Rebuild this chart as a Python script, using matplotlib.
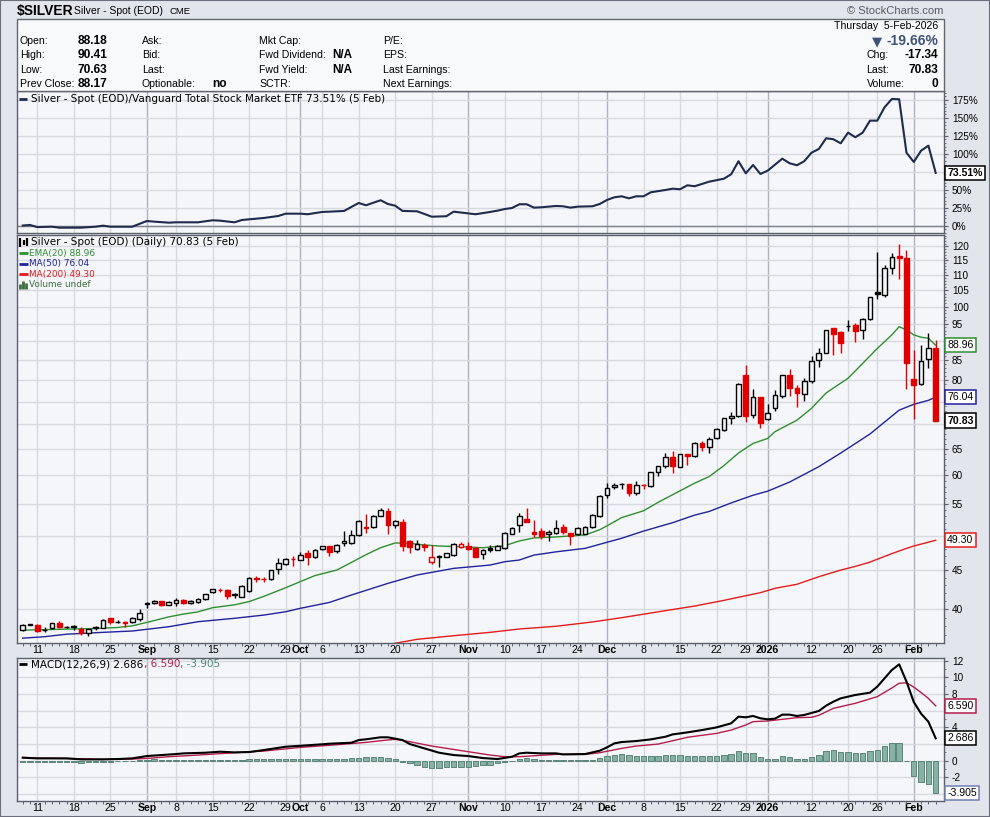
import matplotlib
matplotlib.use("Agg")
import matplotlib.pyplot as plt
import numpy as np
import pandas as pd
from matplotlib.lines import Line2D
from matplotlib.patches import Rectangle
from matplotlib.ticker import FixedLocator, NullFormatter

# ==========================================
# DATA
# ==========================================

FIRST_DAY = "2025-08-07"
LAST_DAY = "2026-02-05"
HOLIDAYS = ["2025-09-01", "2025-11-27", "2025-12-25", "2026-01-01", "2026-01-19"]

opens = [37.56, 38.18, 38.18, 37.58, 37.75, 38.4, 37.92, 37.95, 37.7, 37.25,
         37.75, 37.85, 38.95, 38.5, 38.45, 38.45, 38.9, 40.6, 40.8, 41.0,
         40.55, 40.75, 41.2, 40.8, 40.9, 41.3, 42.2, 42.45, 42.45, 41.8,
         41.56, 42.26, 44.0, 43.88, 43.8, 45.2, 45.9, 46.6, 46.45, 47.4,
         46.8, 47.95, 48.45, 47.7, 48.85, 48.95, 50.15, 51.3, 51.25, 53.05,
         53.85, 51.7, 52.1, 49.2, 47.95, 48.6, 46.1, 46.8, 46.9, 47.15,
         48.25, 48.4, 48.2, 47.25, 48.1, 47.85, 48.1, 50.25, 51.7, 52.6,
         50.6, 50.75, 50.2, 50.35, 51.25, 50.35, 50.25, 50.25, 51.25, 53.05,
         56.55, 58.0, 58.4, 58.45, 56.95, 58.3, 58.1, 60.6, 61.75, 63.45,
         61.6, 64.0, 63.65, 66.1, 65.3, 67.1, 68.8, 71.3, 71.8, 81.3,
         72.0, 76.0, 71.1, 73.5, 76.2, 81.2, 78.1, 76.8, 79.9, 85.0,
         86.9, 93.6, 92.6, 94.3, 94.6, 93.15, 96.2, 104.4, 103.6, 112.3,
         116.5, 115.9, 80.3, 79.0, 85.3, 88.18]
highs = [38.3, 38.3, 38.22, 37.9, 38.4, 38.6, 38.0, 38.2, 37.9, 37.7,
         38.0, 38.8, 39.0, 38.7, 38.6, 39.1, 40.0, 40.9, 41.2, 41.05,
         41.0, 41.35, 41.3, 41.1, 41.4, 41.9, 42.6, 42.65, 42.5, 42.0,
         43.0, 44.05, 44.3, 44.1, 45.1, 46.7, 46.7, 47.0, 47.6, 47.9,
         48.0, 48.5, 48.5, 48.7, 50.75, 50.9, 52.4, 53.4, 53.2, 54.3,
         54.3, 52.4, 52.55, 49.3, 49.3, 48.85, 48.6, 47.2, 47.5, 48.9,
         49.1, 49.0, 48.3, 48.0, 48.6, 48.6, 50.5, 51.3, 53.6, 54.3,
         52.4, 51.1, 50.85, 52.4, 51.75, 50.45, 51.3, 51.4, 53.3, 56.5,
         58.7, 58.7, 58.7, 58.5, 59.0, 58.5, 60.7, 61.8, 64.2, 64.6,
         64.1, 64.1, 66.3, 66.6, 67.3, 69.2, 71.4, 72.6, 79.3, 83.7,
         77.9, 76.1, 74.5, 77.8, 81.3, 82.8, 78.9, 80.5, 86.2, 88.3,
         93.3, 93.8, 93.0, 96.0, 95.3, 96.7, 103.0, 118.1, 113.4, 117.7,
         121.0, 118.7, 87.7, 89.0, 92.2, 90.41]
lows = [37.5, 38.1, 37.4, 37.3, 37.7, 37.75, 37.8, 37.55, 37.05, 36.85,
        37.6, 37.8, 38.3, 38.4, 37.9, 38.4, 38.6, 40.2, 40.6, 40.35,
        40.5, 40.45, 40.7, 40.7, 40.8, 41.2, 42.0, 42.2, 41.3, 41.4,
        41.5, 42.2, 43.5, 43.5, 43.7, 44.5, 45.8, 45.6, 46.4, 45.8,
        46.7, 47.9, 47.05, 47.4, 48.5, 48.7, 50.0, 50.4, 51.1, 53.0,
        50.3, 51.1, 47.7, 47.4, 47.9, 47.7, 45.95, 45.4, 46.8, 47.0,
        48.15, 47.9, 46.8, 46.55, 47.6, 47.8, 48.0, 50.2, 50.6, 52.1,
        49.8, 49.45, 49.2, 50.25, 50.25, 48.6, 50.1, 50.2, 51.1, 52.9,
        56.0, 57.6, 57.5, 56.3, 56.6, 57.5, 58.0, 59.8, 61.3, 60.5,
        61.5, 62.0, 63.5, 64.5, 64.3, 67.0, 68.7, 70.1, 71.7, 70.5,
        71.3, 69.2, 70.9, 72.8, 75.9, 76.2, 73.7, 75.2, 79.4, 83.4,
        86.8, 86.3, 86.9, 92.9, 89.8, 90.7, 96.0, 102.2, 103.0, 110.3,
        108.6, 78.0, 71.1, 78.8, 83.1, 70.63]
closes = [38.14, 38.22, 37.45, 37.62, 38.35, 37.9, 37.95, 37.98, 37.25, 37.65,
          37.9, 38.7, 38.45, 38.55, 38.42, 38.95, 39.6, 40.8, 41.05, 40.5,
          40.95, 41.2, 40.75, 41.0, 41.3, 41.85, 42.5, 42.4, 41.7, 41.85,
          42.92, 43.97, 43.9, 43.82, 45.05, 46.0, 46.6, 46.55, 47.1, 46.8,
          47.9, 48.45, 47.6, 48.65, 49.2, 50.15, 52.25, 51.1, 53.05, 54.0,
          51.7, 52.25, 48.45, 48.35, 48.8, 48.35, 46.8, 47.0, 47.4, 48.8,
          48.7, 47.95, 46.9, 47.85, 47.9, 48.45, 50.35, 51.1, 53.1, 52.15,
          50.2, 49.95, 50.5, 51.2, 50.5, 49.95, 51.1, 51.25, 53.2, 56.35,
          57.8, 58.3, 58.45, 56.95, 58.25, 58.2, 60.55, 61.7, 63.4, 61.75,
          64.0, 63.6, 66.1, 65.3, 66.9, 69.0, 71.3, 71.8, 79.1, 71.9,
          76.0, 70.4, 72.4, 76.5, 81.2, 78.1, 76.9, 79.8, 84.9, 86.9,
          93.1, 92.0, 89.6, 94.4, 92.9, 96.2, 102.8, 103.8, 112.3, 116.3,
          115.7, 84.4, 78.8, 84.9, 88.17, 70.83]

# overlays, sampled by trading-day index
ema20_idx = [0, 5, 10, 13, 15, 17, 20, 22, 24, 26, 29, 31, 33, 36, 38, 40, 43, 45, 47, 49,
             51, 53, 55, 57, 60, 63, 66, 68, 70, 73, 75, 77, 79, 80, 82, 85, 87, 89, 92, 94,
             96, 98, 100, 102, 103, 106, 108, 110, 113, 115, 117, 119, 120, 121, 122, 123, 124, 125]
ema20_val = [37.56, 37.65, 37.75, 37.86, 38.05, 38.45, 39.1, 39.43, 39.7, 40.2, 40.55, 40.95, 41.6, 42.7, 43.5, 44.3, 45.05, 46.1, 47.2, 48.2,
             48.9, 48.85, 48.6, 48.45, 48.35, 48.2, 48.5, 49.2, 49.65, 49.8, 49.95, 50.1, 50.9, 51.5, 52.8, 53.9, 55.3, 56.6, 58.6, 59.8,
             61.8, 64.2, 66.1, 67.1, 68.5, 70.9, 73.5, 77.0, 80.5, 84.2, 88.1, 91.8, 94.1, 93.2, 91.8, 91.15, 90.87, 88.96]

ma50_idx = [0, 3, 6, 11, 15, 20, 24, 29, 33, 36, 38, 42, 45, 50, 54, 59, 64, 66, 68, 70,
            73, 77, 80, 82, 85, 89, 92, 94, 97, 100, 102, 105, 109, 112, 116, 120, 122, 124, 125]
ma50_val = [36.66, 36.82, 37.1, 37.31, 37.46, 37.95, 38.53, 38.93, 39.31, 39.71, 40.12, 40.85, 41.77, 43.27, 44.38, 45.28, 45.74, 46.2, 46.44, 47.14,
            47.6, 48.11, 49.0, 49.6, 50.69, 52.0, 53.2, 53.8, 55.2, 56.5, 57.2, 58.8, 61.6, 64.2, 68.0, 73.1, 74.4, 75.3, 76.04]

ma200_idx = [50, 54, 59, 64, 68, 73, 78, 82, 87, 92, 96, 101, 103, 106, 109, 112, 114, 116, 119, 121, 122, 125]
ma200_val = [35.95, 36.53, 36.93, 37.31, 37.69, 38.0, 38.5, 39.0, 39.7, 40.4, 41.1, 42.07, 42.63, 43.15, 44.15, 45.05, 45.55, 46.15, 47.35, 48.1, 48.45, 49.3]

# Silver / VTI relative performance, % change
rel_idx = [0, 1, 2, 4, 5, 8, 10, 11, 12, 15, 17, 18, 20, 21, 24, 26, 27, 29, 30, 33,
           35, 36, 38, 39, 41, 42, 44, 46, 47, 49, 50, 51, 52, 54, 56, 58, 59, 62, 64, 65,
           66, 67, 68, 69, 70, 71, 73, 74, 75, 76, 78, 79, 80, 81, 82, 83, 84, 85, 86, 88,
           89, 90, 91, 92, 94, 96, 97, 98, 99, 100, 101, 102, 104, 105, 106, 107, 108, 109, 110, 111,
           112, 113, 114, 115, 116, 117, 118, 119, 120, 121, 122, 123, 124, 125]
rel_val = [0.2, 1.0, -2.0, -1.4, -2.8, -2.8, -1.4, 0.0, -1.4, -1.4, 6.5, 5.6, 4.2, 4.7, 4.7, 7.5, 7.0, 4.7, 7.9, 10.7,
           13.5, 16.7, 16.7, 15.9, 19.1, 19.5, 20.5, 31.6, 28.4, 35.4, 30.2, 27.8, 20.5, 20.0, 12.5, 13.1, 19.5, 15.9, 19.1, 20.9,
           23.2, 24.6, 29.8, 29.8, 25.1, 25.6, 27.4, 27.0, 25.1, 26.5, 27.0, 30.2, 35.8, 39.5, 40.9, 38.1, 40.9, 40.9, 46.5, 49.7,
           51.5, 50.7, 56.2, 54.9, 61.3, 65.4, 71.6, 89.7, 72.9, 84.5, 72.0, 76.6, 93.3, 86.9, 84.1, 89.7, 101.6, 106.8, 121.7, 120.3,
           114.7, 129.5, 123.1, 129.5, 146.2, 146.2, 164.8, 176.4, 176.0, 101.6, 88.7, 104.4, 111.4, 73.51]

# MACD(12,26,9)
macd_idx = [0, 2, 6, 8, 11, 13, 15, 17, 19, 21, 22, 25, 27, 29, 31, 33, 36, 39, 41, 42,
            45, 46, 47, 49, 50, 52, 53, 55, 57, 59, 61, 63, 65, 67, 68, 69, 71, 73, 74, 77,
            79, 80, 81, 82, 84, 86, 88, 89, 91, 93, 95, 97, 98, 99, 100, 101, 102, 103, 104, 105,
            106, 107, 109, 110, 111, 112, 113, 114, 116, 117, 118, 119, 120, 121, 122, 123, 124, 125]
macd_val = [0.36, 0.28, 0.28, 0.16, 0.16, 0.2, 0.28, 0.56, 0.68, 0.8, 0.88, 0.96, 1.08, 1.0, 1.04, 1.28, 1.68, 1.85, 1.97, 2.04,
            2.16, 2.48, 2.57, 2.81, 2.81, 2.48, 2.0, 1.48, 0.96, 0.68, 0.56, 0.32, 0.2, 0.48, 0.88, 0.96, 0.88, 0.88, 0.76, 0.8,
            1.2, 1.6, 2.08, 2.24, 2.36, 2.56, 2.88, 3.16, 3.4, 3.68, 4.0, 4.49, 5.29, 5.21, 5.37, 5.09, 4.97, 5.05, 5.53, 5.53,
            5.37, 5.49, 5.97, 6.61, 7.09, 7.49, 7.69, 7.89, 8.17, 8.89, 9.89, 10.89, 11.57, 9.5, 7.05, 5.65, 4.68, 2.686]
signal_idx = [0, 2, 8, 11, 15, 17, 20, 24, 29, 33, 38, 42, 47, 49, 51, 53, 56, 61, 64, 66,
              68, 73, 77, 79, 82, 84, 87, 89, 91, 95, 97, 99, 100, 102, 104, 106, 108, 109, 111, 114,
              117, 119, 120, 121, 122, 123, 124, 125]
signal_val = [0.4, 0.32, 0.24, 0.16, 0.2, 0.28, 0.48, 0.68, 0.96, 1.16, 1.6, 1.85, 2.2, 2.4, 2.57, 2.28, 1.76, 1.08, 0.68, 0.48,
              0.48, 0.76, 0.76, 0.96, 1.48, 1.76, 2.0, 2.4, 2.81, 3.28, 3.68, 4.29, 4.69, 4.77, 4.97, 5.17, 5.21, 5.45, 6.29, 6.89,
              7.69, 8.73, 9.3, 9.35, 8.84, 8.19, 7.48, 6.59]
histogram = [-0.1, -0.12, -0.12, -0.1, -0.1, -0.15, -0.15, -0.2, -0.25, -0.2,
             -0.15, -0.12, -0.1, -0.05, -0.03, 0.02, 0.05, 0.12, 0.15, 0.12,
             0.1, 0.1, 0.1, 0.08, 0.08, 0.1, 0.12, 0.1, 0.05, 0.05,
             0.1, 0.15, 0.2, 0.25, 0.25, 0.25, 0.25, 0.25, 0.22, 0.25,
             0.25, 0.22, 0.2, 0.2, 0.2, 0.3, 0.35, 0.4, 0.45, 0.4,
             0.35, 0.15, -0.15, -0.25, -0.5, -0.7, -0.85, -0.9, -0.8, -0.75,
             -0.7, -0.7, -0.65, -0.55, -0.52, -0.32, -0.12, 0.0, 0.2, 0.36,
             0.2, 0.08, 0.05, 0.05, 0.04, 0.04, 0.05, 0.05, 0.1, 0.28,
             0.56, 0.68, 0.76, 0.68, 0.56, 0.6, 0.56, 0.6, 0.64, 0.64,
             0.64, 0.56, 0.56, 0.56, 0.56, 0.6, 0.68, 0.76, 1.16, 0.96,
             0.96, 0.48, 0.24, 0.24, 0.56, 0.48, 0.24, 0.24, 0.48, 0.68,
             1.16, 1.28, 1.08, 1.08, 0.88, 0.96, 1.2, 1.28, 1.76, 2.08,
             2.08, -0.04, -1.84, -2.6, -2.84, -3.905]

# ==========================================
# STYLE
# ==========================================

W, H = 990, 817
FIG_BG = "#e2e5ec"
PANEL_BG = "#f5f6fa"
GRID = "#d6d9e0"
GRID_MONTH = "#aeb2bc"
SPINE = "#5c606c"
UP = "#000000"
DOWN = "#e00000"
EMA_C = "#2f8f2f"
MA50_C = "#22229a"
MA200_C = "#e41c1c"
REL_C = "#1e2b4b"
SIG_C = "#b51d4c"
HIST_FACE = "#85b2a4"
HIST_EDGE = "#4c7a6d"

SANS = "Liberation Sans"
VERD = "DejaVu Sans"
plt.rcParams["font.family"] = SANS


def fx(px):
    return px / W


def fy(py):
    return 1 - py / H


# trading calendar
days = pd.bdate_range(FIRST_DAY, LAST_DAY)
days = days[~days.isin(pd.to_datetime(HOLIDAYS))]
n = len(days)
x = np.arange(n)

tick_pos, tick_lbl, tick_month = [], [], []
for i in range(1, n):
    d, p = days[i], days[i - 1]
    if d.month != p.month:
        tick_pos.append(i)
        tick_lbl.append(str(d.year) if d.month == 1 else d.strftime("%b"))
        tick_month.append(True)
    elif d.isocalendar()[1] != p.isocalendar()[1] and (not tick_pos or i - tick_pos[-1] > 1):
        tick_pos.append(i)
        tick_lbl.append(str(d.day))
        tick_month.append(False)

# ==========================================
# FIGURE
# ==========================================

fig = plt.figure(figsize=(W / 100, H / 100), dpi=100)
fig.patch.set_facecolor(FIG_BG)

ax_rel = fig.add_axes([fx(16.5), fy(233), 927 / W, 142 / H])
ax_px = fig.add_axes([fx(16.5), fy(642.5), 927 / W, 407.5 / H])
ax_macd = fig.add_axes([fx(16.5), fy(800.7), 927 / W, 143.2 / H])


def base_style(ax):
    ax.set_facecolor(PANEL_BG)
    ax.set_xlim(-0.85, 126.07)
    for s in ax.spines.values():
        s.set_color(SPINE)
        s.set_linewidth(1.0)
    ax.yaxis.tick_right()
    ax.tick_params(axis="y", which="major", length=3, width=0.8, color=SPINE,
                   labelsize=7.2, pad=3)
    ax.tick_params(axis="y", which="minor", length=1.5, width=0.6, color=SPINE)
    ax.set_xticks(tick_pos)
    ax.set_xticks(x, minor=True)
    for p, m in zip(tick_pos, tick_month):
        ax.axvline(p, color=GRID_MONTH if m else GRID, lw=1, zorder=0)
    ax.tick_params(axis="x", which="major", length=0, pad=1.5, labelsize=7.6)
    ax.tick_params(axis="x", which="minor", length=2.2, width=0.7, color=SPINE, direction="out")


def y_labels(ax, ticks, fmt, tag_values):
    # labels hidden behind the value tags are left blank, as on the original
    ax.set_yticks(ticks)
    labels = []
    for v in ticks:
        py = ax.transData.transform((0, v))[1]
        near = any(abs(py - ax.transData.transform((0, t))[1]) < 10 for t in tag_values)
        labels.append("" if near else fmt(v))
    ax.set_yticklabels(labels)


def tag(ax, y, text, ec, bold=False):
    ax.text(1.004, y, text, transform=ax.get_yaxis_transform(), ha="left", va="center",
            fontsize=7.6, fontweight="bold" if bold else "normal", color="black",
            bbox=dict(boxstyle="square,pad=0.2", fc="white", ec=ec, lw=1.1),
            zorder=10, clip_on=False)


# ---------- relative performance panel ----------
base_style(ax_rel)
ax_rel.set_ylim(-10.2, 187.5)
rel_ticks = list(range(0, 176, 25))
y_labels(ax_rel, rel_ticks, lambda v: f"{v}%", [rel_val[-1]])
ax_rel.yaxis.set_minor_locator(FixedLocator(range(-10, 188, 5)))
for v in rel_ticks:
    ax_rel.axhline(v, color=GRID, lw=1, zorder=0)
ax_rel.axhline(0, color="#7c808b", lw=1, zorder=1)
ax_rel.tick_params(axis="x", which="both", length=0, labelbottom=False)
ax_rel.plot(rel_idx, rel_val, color=REL_C, lw=1.5, zorder=3)
tag(ax_rel, rel_val[-1], f"{rel_val[-1]:.2f}%", "black", bold=True)

# ---------- price panel ----------
o = np.array(opens)
h = np.array(highs)
l = np.array(lows)
c = np.array(closes)
prev = np.r_[c[0], c[:-1]]
col = np.where(c >= prev, UP, DOWN)
face = np.where(c < o, col, PANEL_BG)

base_style(ax_px)
ax_px.set_yscale("log")
ax_px.set_ylim(36.18, 124.2)
px_ticks = list(range(40, 121, 5))
y_labels(ax_px, px_ticks, str, [ema20_val[-1], ma50_val[-1], c[-1], ma200_val[-1]])
ax_px.yaxis.set_minor_locator(FixedLocator(range(37, 125)))
ax_px.yaxis.set_minor_formatter(NullFormatter())
for v in px_ticks:
    ax_px.axhline(v, color=GRID, lw=1, zorder=0)
ax_px.set_xticklabels(tick_lbl)
for lbl, m in zip(ax_px.get_xticklabels(), tick_month):
    if m:
        lbl.set_fontweight("bold")

ax_px.plot(ma200_idx, ma200_val, color=MA200_C, lw=1.0, zorder=2)
ax_px.plot(ma50_idx, ma50_val, color=MA50_C, lw=1.0, zorder=2)
ax_px.plot(ema20_idx, ema20_val, color=EMA_C, lw=1.0, zorder=2)
ax_px.vlines(x, l, h, colors=col, lw=1.0, zorder=3)
ax_px.bar(x, np.maximum(o, c) - np.minimum(o, c), bottom=np.minimum(o, c), width=0.64,
          color=face, edgecolor=col, linewidth=1.0, zorder=4)

tag(ax_px, ema20_val[-1], f"{ema20_val[-1]:.2f}", EMA_C)
tag(ax_px, ma50_val[-1], f"{ma50_val[-1]:.2f}", MA50_C)
tag(ax_px, c[-1], f"{c[-1]:.2f}", "black", bold=True)
tag(ax_px, ma200_val[-1], f"{ma200_val[-1]:.2f}", MA200_C)

# ---------- MACD panel ----------
base_style(ax_macd)
ax_macd.set_ylim(-4.8, 12.39)
macd_ticks = list(range(-4, 13, 2))
y_labels(ax_macd, macd_ticks, str, [signal_val[-1], macd_val[-1], histogram[-1]])
ax_macd.yaxis.set_minor_locator(FixedLocator(range(-4, 13)))
for v in macd_ticks:
    ax_macd.axhline(v, color=GRID, lw=1, zorder=0)
ax_macd.set_xticklabels(tick_lbl)
for lbl, m in zip(ax_macd.get_xticklabels(), tick_month):
    if m:
        lbl.set_fontweight("bold")
ax_macd.bar(x, histogram, width=0.74, color=HIST_FACE, edgecolor=HIST_EDGE, linewidth=0.6, zorder=2)
ax_macd.plot(signal_idx, signal_val, color=SIG_C, lw=1.0, zorder=3)
ax_macd.plot(macd_idx, macd_val, color="black", lw=1.5, zorder=4)
tag(ax_macd, signal_val[-1], f"{signal_val[-1]:.3f}", SIG_C)
tag(ax_macd, macd_val[-1], f"{macd_val[-1]:.3f}", "black")
tag(ax_macd, histogram[-1], f"{histogram[-1]:.3f}", "#7080b0")

# ==========================================
# HEADER / LEGENDS
# ==========================================

fig.add_artist(Rectangle((fx(16.5), fy(91)), 927 / W, 72 / H, transform=fig.transFigure,
                         fc="#f8f9fb", ec="#62666f", lw=1.0))
fig.add_artist(Rectangle((0, 0), 1, 1, transform=fig.transFigure, fill=False,
                         ec="#6b6f7b", lw=1.5))

fig.text(fx(17), fy(11), "$SILVER", fontsize=10, fontweight="bold", va="center")
fig.text(fx(74), fy(11.5), "Silver - Spot (EOD)", fontsize=7.5, va="center")
fig.text(fx(170), fy(12), "CME", fontsize=6.8, va="center")
fig.text(fx(943), fy(11.5), "\u00a9 StockCharts.com", fontsize=8, va="center", ha="right",
         color="#555a66")

rows_y = [41, 55, 70, 84]
info_cols = [
    (20, ["Open:", "High:", "Low:", "Prev Close:"]),
    (142, ["Ask:", "Bid:", "Last:", "Optionable:"]),
    (259, ["Mkt Cap:", "Fwd Dividend:", "Fwd Yield:", "SCTR:"]),
    (383, ["P/E:", "EPS:", "Last Earnings:", "Next Earnings:"]),
]
for xp, labels in info_cols:
    for yp, t in zip(rows_y, labels):
        fig.text(fx(xp), fy(yp), t, fontsize=7.6, va="center")
for yp, t in zip(rows_y, ["88.18", "90.41", "70.63", "88.17"]):
    fig.text(fx(78), fy(yp), t, fontsize=8.6, fontweight="bold", va="center")
fig.text(fx(212), fy(84), "no", fontsize=8.6, fontweight="bold", va="center")
fig.text(fx(332), fy(55), "N/A", fontsize=8.4, fontweight="bold", va="center")
fig.text(fx(332), fy(70), "N/A", fontsize=8.4, fontweight="bold", va="center")

fig.text(fx(938), fy(26), "Thursday  5-Feb-2026", fontsize=7.6, va="center", ha="right")
fig.text(fx(877), fy(41.5), "\u25bc", fontsize=9.5, va="center", ha="center",
         color="#3e5478", family=VERD)
fig.text(fx(938), fy(41), "-19.66%", fontsize=10, fontweight="bold", va="center",
         ha="right", color="#3e5478")
for yp, lab, val in zip(rows_y[1:], ["Chg:", "Last:", "Volume:"], ["-17.34", "70.83", "0"]):
    fig.text(fx(866.5), fy(yp), lab, fontsize=7.6, va="center")
    fig.text(fx(938), fy(yp), val, fontsize=8.6, fontweight="bold", va="center", ha="right")


def fig_line(x0, x1, y0, y1, color, lw=2.0):
    fig.add_artist(Line2D([fx(x0), fx(x1)], [fy(y0), fy(y1)], color=color, lw=lw,
                          transform=fig.transFigure, solid_capstyle="butt"))


# relative panel legend
fig_line(19, 27, 98.7, 98.7, REL_C)
fig.text(fx(31.5), fy(98.7), "Silver - Spot (EOD)/Vanguard Total Stock Market ETF 73.51% (5 Feb)",
         fontsize=7.5, va="center", family=VERD)

# price panel legend
for xx, y0, y1 in [(20, 238, 247), (23.5, 239.5, 245), (26.5, 237.5, 246)]:
    fig_line(xx, xx, y0, y1, "black", lw=1.6)
fig.text(fx(31.5), fy(242.3), "Silver - Spot (EOD) (Daily) 70.83 (5 Feb)", fontsize=7.5,
         va="center", family=VERD)
for yp, txt, cc in [(253.3, "EMA(20) 88.96", EMA_C), (263.7, "MA(50) 76.04", MA50_C),
                    (274.0, "MA(200) 49.30", MA200_C)]:
    fig_line(19.3, 28, yp, yp, cc)
    fig.text(fx(29.3), fy(yp), txt, fontsize=6.4, va="center", color=cc, family=VERD)
for xx, top in [(20, 283.5), (23, 280.5), (26, 282.5)]:
    fig_line(xx, xx, 288.5, top, "#3f6f3f", lw=2.0)
fig.text(fx(29.3), fy(284.3), "Volume undef", fontsize=6.4, va="center", color="#3f6f3f",
         family=VERD)

# MACD legend (multi-coloured)
fig_line(19, 27, 664.3, 664.3, "black")
renderer = fig.canvas.get_renderer()
xpos = fx(31.5)
for txt, cc in [("MACD(12,26,9) 2.686", "black"), (", 6.590", SIG_C), (", -3.905", "#4f8a7a")]:
    t = fig.text(xpos, fy(664.3), txt, fontsize=7.5, va="center", color=cc, family=VERD)
    bb = t.get_window_extent(renderer)
    xpos = fig.transFigure.inverted().transform((bb.x1, bb.y0))[0]

fig.savefig("out.png", dpi=100, facecolor=fig.get_facecolor())
